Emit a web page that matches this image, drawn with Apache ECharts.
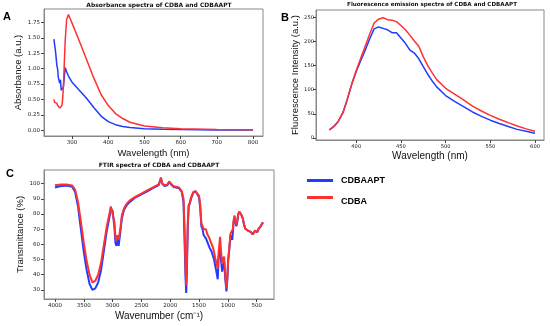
<!DOCTYPE html>
<html><head><meta charset="utf-8">
<script src="https://cdn.jsdelivr.net/npm/echarts@6/dist/echarts.min.js"></script>
<style>html,body{margin:0;padding:0;background:#fff}#c{width:550px;height:326px}</style>
</head><body><div id="c"></div>
<script>
// ---- Panel A: absorbance ----
const absX = [250,252,254,256,258,260,262,264,266,268,270,272,274,276,278,281,285,290,300,320,340,360,380,400,420,440,460,500,550,600,700,800];
const absCDBAAPT = [1.48,1.38,1.30,1.18,1.05,1.00,0.86,0.89,0.76,0.82,0.65,0.67,0.66,0.70,0.82,1.02,0.95,0.88,0.78,0.65,0.52,0.37,0.23,0.14,0.09,0.06,0.045,0.025,0.015,0.01,0.005,0.003];
const absCDBA = [0.50,0.45,0.47,0.43,0.44,0.40,0.38,0.37,0.36,0.35,0.36,0.40,0.50,0.70,1.00,1.45,1.80,1.88,1.74,1.45,1.15,0.85,0.58,0.40,0.27,0.19,0.13,0.07,0.04,0.025,0.012,0.006];
const absYTicks = [0,0.25,0.5,0.75,1.0,1.25,1.5,1.75];
const absXTicks = [300,400,500,600,700,800];

// ---- Panel B: fluorescence ----
const flX = [370,375,380,385,390,395,400,405,410,415,420,425,430,435,440,445,450,455,460,465,470,475,480,485,490,500,510,520,530,540,550,560,570,580,590,600];
const flCDBAAPT = [17,24,35,52,80,112,138,160,182,205,226,230,227,224,218,218,207,196,182,176,164,148,132,118,106,88,76,65,54,45,37,30,24,18,14,10];
const flCDBA = [17,24,35,52,80,112,140,165,190,215,238,246,249,245,244,241,233,224,213,201,190,168,150,135,121,103,91,79,66,56,47,39,32,25,19,14];
const flYTicks = [0,50,100,150,200,250];
const flXTicks = [400,450,500,550,600];

// ---- Panel C: FTIR ----
const irX = [4000,3900,3800,3700,3650,3600,3550,3500,3450,3400,3350,3300,3250,3200,3150,3100,3050,3030,3000,2970,2950,2935,2915,2895,2880,2860,2840,2800,2750,2700,2600,2500,2400,2300,2200,2160,2140,2100,2050,2020,2000,1950,1900,1850,1800,1770,1750,1735,1723,1710,1695,1680,1660,1640,1600,1560,1530,1500,1480,1460,1440,1420,1400,1380,1360,1340,1320,1300,1280,1260,1240,1220,1200,1176,1160,1135,1120,1100,1085,1066,1045,1025,1010,995,975,955,940,925,915,900,885,870,855,840,820,800,780,760,740,720,700,680,650,620,600,570,550,530,510,490,470,450,430,410,390];
const irCDBAAPT = [97.5,98.5,98.7,98,94.5,85,70,55,43,34,30,31,35,43,56,69,79,83.5,82,72,61,59,63,59,60,70,77,83,86,88,91,93,95,97,99,104,100,98.5,99,101,100,98,97.5,97,94.5,88,60,38,28,45,72,85,87,90,94,95,94,91,84,72,70,66,65,64,62,61,58,57,55,54,50,46,42,37,52,57,50,42,46,49,37,29,36,49,57,66,67,63,67,75,78,75,72,74,80,81.5,81,79,77,73,70.5,70,69,68.5,68,66.5,67,69,68.5,68,70,71,72,73.5,74.5];
const irCDBA = [99,99.5,99.5,98.8,96,88,75,61,49,40,35,36,40,48,60,72,81,85,84,75,65,62,66,63,64,72,79,84,87,89,91.5,93.5,95.5,97.5,99.5,103.5,100,99,99.5,101.5,100.5,98.5,98,97.5,95,90,70,45,33,50,75,86,87.5,91,94.5,95,94,92,86,74,73,70,69,70,67,66,64,62,60,58,55,51,48,44,55,65,56,47,50,52,40,31,38,50,58,67,68,66,70,76,79,76,73,75,80,81.5,81,79,77,73,70.5,70,69,68.5,68,66.5,67,69,68.5,68,70,71,72,73.5,74.5];
const irYTicks = [30,40,50,60,70,80,90,100];
const irXTicks = [4000,3500,3000,2500,2000,1500,1000,500];

const BLUE = '#1f3dff', RED = '#ff3030';
const zip = (xs, ys) => xs.map((x, i) => [x, ys[i]]);

const tickLbl = (fs, m) => ({fontSize: fs, color: '#222', fontFamily: 'DejaVu Sans', margin: m});
const axName = fs => ({fontSize: fs, color: '#111', fontFamily: 'Liberation Sans'});
function xAx(grid, min, max, ticks, name, gap, fs, tfs, extra) {
  return Object.assign({type: 'value', gridIndex: grid, min, max, name, nameLocation: 'middle', nameGap: gap,
    nameTextStyle: axName(fs), splitLine: {show: false},
    axisLine: {show: true, onZero: false, lineStyle: {color: '#888'}},
    axisTick: {show: true, length: 3, customValues: ticks, lineStyle: {color: '#444'}},
    axisLabel: Object.assign({customValues: ticks, formatter: v => String(v)}, tickLbl(tfs, 4))}, extra || {});
}
function yAx(grid, min, max, ticks, name, gap, fs, tfs, m, fmt) {
  return {type: 'value', gridIndex: grid, min, max, name, nameLocation: 'middle', nameGap: gap, nameRotate: 90,
    nameTextStyle: axName(fs), splitLine: {show: false},
    axisLine: {show: true, onZero: false, lineStyle: {color: '#888'}},
    axisTick: {show: true, length: 3, customValues: ticks, lineStyle: {color: '#444'}},
    axisLabel: Object.assign({customValues: ticks, formatter: fmt}, tickLbl(tfs, m))};
}
const ttl = (text, left, top, fs) => ({text, left, top, textAlign: 'center', padding: 0,
  textStyle: {fontSize: fs, fontWeight: 'bold', fontFamily: 'DejaVu Sans', color: '#111'}});
const lab = (text, left, top) => ({text, left, top, padding: 0,
  textStyle: {fontSize: 11, fontWeight: 'bold', fontFamily: 'Liberation Sans', color: '#000'}});

const line = (name, color, xi, yi, data, w) => ({name, type: 'line', xAxisIndex: xi, yAxisIndex: yi, data,
  showSymbol: false, symbol: 'none', lineStyle: {color, width: w}, itemStyle: {color}, animation: false});

const legTxt = {fontSize: 9, fontWeight: 'bold', fontFamily: 'Liberation Sans', color: '#000'};

const chart = echarts.init(document.getElementById('c'), null, {renderer: 'canvas'});
chart.setOption({
  animation: false,
  backgroundColor: '#fff',
  title: [
    ttl('Absorbance spectra of CDBA and CDBAAPT', 159, 2, 6),
    ttl('Fluorescence emission spectra of CDBA and CDBAAPT', 432, 2, 5.6),
    ttl('FTIR spectra of CDBA and CDBAAPT', 159, 162, 6),
    lab('A', 3, 11), lab('B', 281, 12), lab('C', 6, 168)
  ],
  grid: [
    {left: 44, top: 9, width: 219, height: 127, show: true, borderColor: '#888', borderWidth: 1},
    {left: 316, top: 10, width: 228, height: 130, show: true, borderColor: '#888', borderWidth: 1},
    {left: 44, top: 170, width: 230, height: 129, show: true, borderColor: '#888', borderWidth: 1}
  ],
  xAxis: [
    xAx(0, 222.5, 827.5, absXTicks, 'Wavelength (nm)', 12, 9.5, 5.5),
    xAx(1, 355, 610, flXTicks, 'Wavelength (nm)', 11, 10, 5.2),
    xAx(2, 200, 4190, irXTicks, 'Wavenumber (cm\u207B\u00B9)', 12, 10, 5.5, {inverse: true})
  ],
  yAxis: [
    yAx(0, -0.094, 1.97, absYTicks, 'Absorbance (a.u.)', 10, 9.5, 5.5, 4, v => v.toFixed(2)),
    yAx(1, -4, 265, flYTicks, 'Fluorescence Intensity (a.u.)', 6, 9.5, 5.2, 2, v => String(v)),
    yAx(2, 24, 109, irYTicks, 'Transmittance (%)', 9, 9.5, 5.5, 4, v => String(v))
  ],
  legend: [
    {data: ['CDBAAPT'], left: 307, top: 176, padding: 0, icon: 'rect', itemWidth: 26, itemHeight: 3,
     formatter: n => '{a|' + n + '}', textStyle: Object.assign({rich: {a: Object.assign({padding: [0, 0, 0, 3]}, legTxt)}}, legTxt)},
    {data: ['CDBA'], left: 307, top: 196, padding: 0, icon: 'rect', itemWidth: 26, itemHeight: 3,
     formatter: n => '{a|' + n + '}', textStyle: Object.assign({rich: {a: Object.assign({padding: [9, 0, 0, 3]}, legTxt)}}, legTxt)}
  ],
  series: [
    line('CDBAAPT', BLUE, 0, 0, zip(absX, absCDBAAPT), 1.5),
    line('CDBA', RED, 0, 0, zip(absX, absCDBA), 1.5),
    line('CDBAAPT', BLUE, 1, 1, zip(flX, flCDBAAPT), 1.5),
    line('CDBA', RED, 1, 1, zip(flX, flCDBA), 1.5),
    line('CDBAAPT', BLUE, 2, 2, zip(irX, irCDBAAPT), 2),
    line('CDBA', RED, 2, 2, zip(irX, irCDBA), 2)
  ]
});
</script></body></html>
